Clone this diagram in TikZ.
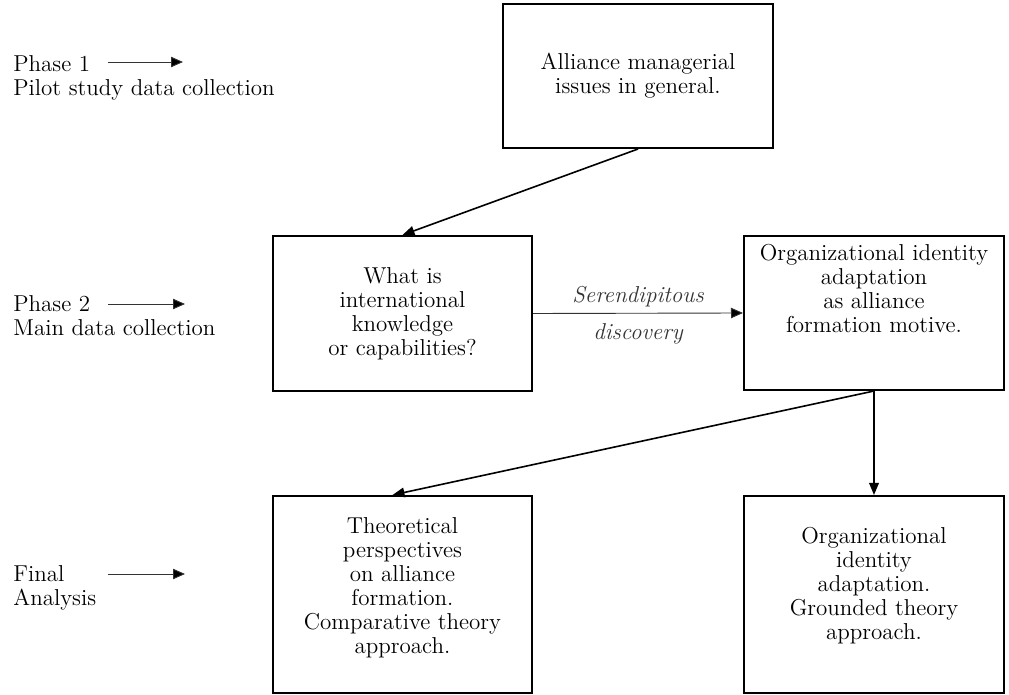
\documentclass[tikz,border=0pt]{standalone}
\usetikzlibrary{arrows.meta}
\begin{document}
\begin{tikzpicture}[x=0.5pt,y=-0.5pt,
  every node/.style={font=\fontsize{11.5}{12}\selectfont, inner sep=0pt},
  box/.style={draw, line width=1pt, anchor=north west},
  txt/.style={align=center, anchor=north},
  conn/.style={line width=0.8pt, -{Triangle[length=6pt,width=4.8pt]}},
  thin conn/.style={line width=0.45pt, black!80, -{Triangle[length=6pt,width=5.2pt,fill=black]}},
  lbl/.style={anchor=base west},
  ital/.style={font=\fontsize{11.5}{12}\selectfont\itshape}
]
\useasboundingbox (0,0) rectangle (1009,695);

% boxes
\node[box, minimum width=135pt, minimum height=72pt, align=center] (gen) at (502,3)
  {Alliance managerial\\issues in general.};
\node[box, minimum width=129.5pt, minimum height=77.5pt, align=center] (know) at (272,235)
  {What is\\international\\knowledge\\or capabilities?};
\node[box, minimum width=130pt, minimum height=77pt] (oid) at (743,235) {};
\node[box, minimum width=129.5pt, minimum height=98.5pt] (theo) at (272,495) {};
\node[box, minimum width=130pt, minimum height=98.5pt] (grd) at (743,495) {};

% box texts set higher than centre
\node[txt] (oidtext) at (oid.north |- 0,244)
  {Organizational identity\\adaptation\\as alliance\\formation motive.};
\node[txt] (theotext) at (theo.north |- 0,517)
  {Theoretical\\perspectives\\on alliance\\formation.\\Comparative theory\\approach.};
\node[txt] (grdtext) at (grd.north |- 0,527)
  {Organizational\\identity\\adaptation.\\Grounded theory\\approach.};

% connectors
\draw[conn] (gen.south) -- (know.north);
\draw[thin conn] (know.east) -- (oid.west)
  node[midway, anchor=base, yshift=5.5pt, ital] (ser) {Serendipitous}
  node[midway, anchor=base, yshift=-13pt, ital] (disc) {discovery};
\draw[conn] (oid.south) -- ([xshift=-5pt]theo.north);
\draw[conn] (oid.south) -- (grd.north);

% phase labels
\node[lbl] (ph1) at (13,72) {Phase 1};
\node[lbl] (ph1b) at (13,96) {Pilot study data collection};
\node[lbl] (ph2) at (13,312) {Phase 2};
\node[lbl] (ph2b) at (13,336) {Main data collection};
\node[lbl] (ph3) at (13,582) {Final};
\node[lbl] (ph3b) at (13,606) {Analysis};

\coordinate (a1s) at (108,62);  \coordinate (a1e) at (183,62);
\coordinate (a2s) at (108,304); \coordinate (a2e) at (185,304);
\coordinate (a3s) at (108,574); \coordinate (a3e) at (185,574);
\draw[thin conn] (a1s) -- (a1e);
\draw[thin conn] (a2s) -- (a2e);
\draw[thin conn] (a3s) -- (a3e);
\end{tikzpicture}
\end{document}
